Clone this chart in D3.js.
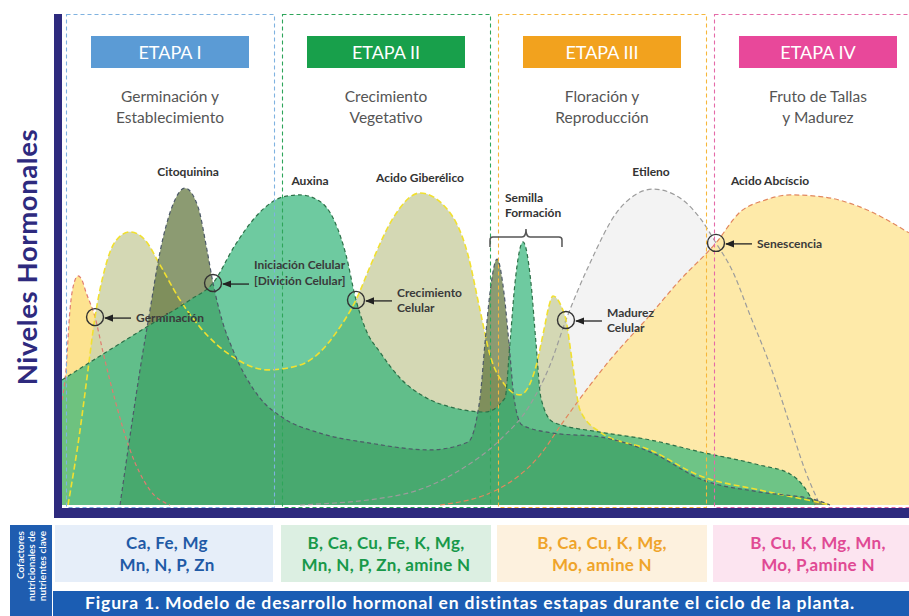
<!DOCTYPE html>
<html><head><meta charset="utf-8">
<script src="https://cdn.jsdelivr.net/npm/d3@7"></script>
<style>
body{margin:0;background:#fff;}
svg{display:block;font-family:Lato,"Open Sans",sans-serif;}
</style>
</head><body>
<svg id="chart" width="909" height="616"></svg>
<script>
// ---------- DATA ----------
const stages = ["ETAPA I", "ETAPA II", "ETAPA III", "ETAPA IV"];
const stageSubtitles = [["Germinación y", "Establecimiento"], ["Crecimiento", "Vegetativo"], ["Floración y", "Reproducción"], ["Fruto de Tallas", "y Madurez"]];
const nutrients = [["Ca, Fe, Mg", "Mn, N, P, Zn"], ["B, Ca, Cu, Fe, K, Mg,", "Mn, N, P, Zn, amine N"], ["B, Ca, Cu, K, Mg,", "Mo, amine N"], ["B, Cu, K, Mg, Mn,", "Mo, P,amine N"]];
const yAxisTitle = "Niveles Hormonales";
const nutrientTitle = ["Cofactores", "nutricionales de", "nutrientes clave"];
const caption = "Figura 1. Modelo de desarrollo hormonal en distintas estapas durante el ciclo de la planta.";

// hormone levels along the plant cycle (x: % of cycle, y: relative level)
const germinacion = [[0,32.4],[0.47,41.7],[0.94,60.2],[1.42,68.5],[1.89,70.7],[2.36,69.4],[2.83,65.7],[3.9,58.0],[4.84,47.2],[6.26,32.4],[8.03,17.0],[10.39,4.6],[12.75,0]];
const giberelico = [[0.71,0],[2.13,23.1],[3.07,41.7],[3.9,58.0],[5.08,73.1],[6.26,81.2],[8.03,84.3],[9.8,81.8],[11.57,74.1],[13.93,63.3],[16.29,54.9],[20.19,45.7],[24.32,41.7],[28.1,43.2],[30.46,47.2],[32.58,54.0],[34.71,63.3],[36.6,75.0],[38.96,88.0],[42.27,96.3],[45.57,91.0],[47.93,77.2],[49.35,60.2],[50.53,46.3],[52.3,37.0],[54.07,34.0],[55.84,41.7],[56.9,54.0],[57.5,61.5],[57.97,64.5],[58.5,63.5],[59.0,61.0],[59.5,57.1],[60.21,44.8],[61.16,29.3],[63.52,22.5],[69.42,17.0],[75.32,9.0],[82.41,4.6],[89.14,0.9],[90.67,0]];
const citoquinina = [[6.85,0],[7.79,17.0],[9.21,41.7],[10.39,60.2],[11.57,78.1],[12.99,92.0],[14.52,97.8],[16.06,92.0],[17.12,78.7],[17.83,68.5],[18.89,57.1],[20.19,47.8],[23.38,33.0],[26.09,26.9],[30.46,22.2],[36.36,19.1],[43.45,17.0],[47.93,19.4],[49.35,33.0],[49.94,50.0],[50.53,65.5],[51.36,75.9],[52.18,65.5],[52.77,50.0],[53.37,33.0],[54.31,24.7],[57.97,22.2],[63.52,21.0],[69.42,16.4],[75.68,7.7],[82.41,4.0],[89.14,1.5],[90.67,0]];
const auxina = [[0,38.6],[4.49,46.0],[10.39,55.6],[15.11,63.3],[17.83,68.5],[20.43,80.2],[23.38,90.4],[26.09,95.1],[28.1,95.7],[30.22,94.1],[32.23,87.3],[33.53,77.2],[34.71,63.3],[35.89,54.0],[37.54,47.2],[39.9,39.2],[42.86,33.3],[46.4,29.9],[49.94,28.7],[52.3,33.0],[52.89,50.0],[53.48,68.5],[54.43,81.2],[55.37,68.5],[55.96,50.0],[56.55,33.0],[57.97,25.6],[63.52,22.5],[69.42,20.1],[75.32,16.4],[82.41,12.3],[85.95,9.6],[87.72,5.2],[88.9,0]];
const etileno = [[28.1,0],[39.9,3.1],[46.99,10.8],[51.71,20.1],[55.25,30.9],[57.62,43.2],[59.5,57.1],[62.34,74.7],[65.52,90.4],[67.65,95.7],[69.77,97.5],[72.37,95.7],[75.32,88.6],[77.21,80.9],[79.22,71.9],[81.23,58.6],[83.59,43.2],[85.95,24.7],[87.72,10.8],[89.49,0]];
const abscisico = [[44.63,0],[51.71,5.2],[56.43,15.4],[59.15,25.6],[62.34,37.0],[64.7,44.8],[69.42,58.6],[72.96,69.4],[77.21,80.9],[80.05,90.4],[83.0,94.1],[85.95,95.7],[89.85,95.1],[94.21,92.0],[100,84.0]];

// hormone name labels (x, y in data units)
const hormoneNames = ["Citoquinina", "Auxina", "Acido Giberélico", "Etileno", "Acido Abcíscio"];
const hormoneNameX = [14.89, 29.28, 42.27, 69.54, 83.59];
const hormoneNameY = [101.5, 98.7, 99.7, 101.5, 98.7];

// event markers (crossing points)
const events = [["Germinación"], ["Iniciación Celular", "[Divición Celular]"], ["Crecimiento", "Celular"], ["Madurez", "Celular"], ["Senescencia"]];
const eventX = [3.9, 17.83, 34.71, 59.5, 77.21];
const eventY = [58.0, 68.5, 63.3, 57.1, 80.9];

// ---------- DRAW ----------
const svg = d3.select("#chart");
const W = 909, H = 616;
const x = d3.scaleLinear().domain([0, 100]).range([62, 909]);
const y = d3.scaleLinear().domain([0, 100]).range([505, 181]);

const defs = svg.append("defs");
defs.append("clipPath").attr("id", "plotclip").append("rect")
  .attr("x", 62).attr("y", 10).attr("width", 850).attr("height", 497);
defs.append("marker").attr("id", "arrow").attr("viewBox", "0 0 10 10")
  .attr("refX", 9).attr("refY", 5).attr("markerWidth", 7).attr("markerHeight", 7)
  .attr("orient", "auto-start-reverse")
  .append("path").attr("d", "M0,1 L10,5 L0,9 Z").attr("fill", "#222");

const hormones = [
  {data: etileno,     fill: "#f1f1f1", op: 0.85, stroke: "#9c9c9c", dash: "5,3", sw: 1.2},
  {data: abscisico,   fill: "#fee8a0", op: 0.9,  stroke: "#e2875e", dash: "5,3", sw: 1.2},
  {data: germinacion, fill: "#fde28a", op: 0.95, stroke: "#e07b70", dash: "4,3", sw: 1.2},
  {data: giberelico,  fill: "#cfd4ac", op: 0.9,  stroke: "#f1e030", dash: "6,3", sw: 1.6},
  {data: citoquinina, fill: "#5b7036", op: 0.7,  stroke: "#4d5a68", dash: "4,3", sw: 1.2},
  {data: auxina,      fill: "#30b478", op: 0.7,  stroke: "#2d7048", dash: "4,3", sw: 1.2}
];

const area = d3.area().x(d => x(d[0])).y0(y(0)).y1(d => y(d[1])).curve(d3.curveMonotoneX);
const line = d3.line().x(d => x(d[0])).y(d => y(d[1])).curve(d3.curveMonotoneX);

const plot = svg.append("g").attr("clip-path", "url(#plotclip)");
hormones.forEach(h => {
  plot.append("path").attr("d", area(h.data)).attr("fill", h.fill).attr("fill-opacity", h.op);
});
hormones.forEach(h => {
  plot.append("path").attr("d", line(h.data)).attr("fill", "none")
    .attr("stroke", h.stroke).attr("stroke-width", h.sw).attr("stroke-dasharray", h.dash);
});

// stage bands
const band = d3.scaleBand().domain(stages).range([66, 922]).paddingInner(0.037);
const stageHead = ["#5b9bd5", "#18a04b", "#f2a21e", "#e8489a"];
const stageDash = ["#7fb2e0", "#2ea55a", "#f6b73c", "#e46aa8"];
const boxFill = ["#e6eef9", "#dcefe2", "#fdf1de", "#fce4f0"];
const boxText = ["#1f5aa6", "#18994a", "#efa42a", "#e04a94"];

stages.forEach((s, i) => {
  const bx = band(s), bw = band.bandwidth();
  svg.append("rect").attr("x", bx + 0.5).attr("y", 14.5).attr("width", bw).attr("height", 493)
    .attr("fill", "none").attr("stroke", stageDash[i]).attr("stroke-width", 1.1)
    .attr("stroke-dasharray", "4,3");
  svg.append("rect").attr("x", bx + 25).attr("y", 36).attr("width", 158).attr("height", 32)
    .attr("fill", stageHead[i]);
  svg.append("text").attr("x", bx + 104).attr("y", 59).attr("text-anchor", "middle")
    .attr("fill", "#fff").attr("font-size", 18).text(s);
  stageSubtitles[i].forEach((t, j) => {
    svg.append("text").attr("x", bx + 104).attr("y", 102 + j * 21).attr("text-anchor", "middle")
      .attr("fill", "#555").attr("font-size", 15.5).text(t);
  });
  // nutrient boxes
  const nx = i === 0 ? 55 : bx - 1;
  const nw = i === 0 ? bx + bw - 55 - 1 : bw + 2;
  svg.append("rect").attr("x", nx).attr("y", 525).attr("width", nw).attr("height", 57).attr("fill", boxFill[i]);
  nutrients[i].forEach((t, j) => {
    svg.append("text").attr("x", i === 0 ? bx + 101 : bx + 104).attr("y", 549 + j * 22).attr("text-anchor", "middle")
      .attr("fill", boxText[i]).attr("font-size", 17).attr("font-weight", 700)
      .attr("letter-spacing", 0.3).text(t);
  });
});

// navy axes
svg.append("rect").attr("x", 54).attr("y", 14).attr("width", 8).attr("height", 504).attr("fill", "#2e2a7e");
svg.append("rect").attr("x", 54).attr("y", 508).attr("width", W - 54).attr("height", 10).attr("fill", "#2e2a7e");

// y-axis title
svg.append("text").attr("transform", "translate(37,257) rotate(-90)").attr("text-anchor", "middle")
  .attr("fill", "#2e2a7e").attr("font-size", 27.5).attr("font-weight", 700)
  .attr("letter-spacing", 0.6).text(yAxisTitle);

// hormone names
hormoneNames.forEach((n, i) => {
  svg.append("text").attr("x", x(hormoneNameX[i])).attr("y", y(hormoneNameY[i]))
    .attr("text-anchor", "middle").attr("fill", "#333").attr("font-size", 12).attr("font-weight", 700).text(n);
});
// Semilla Formación
["Semilla", "Formación"].forEach((t, j) => {
  svg.append("text").attr("x", x(52.3)).attr("y", 202 + j * 15).attr("fill", "#333")
    .attr("font-size", 12).attr("font-weight", 700).text(t);
});
const bl = x(50.53), br = x(59.03), bc = (bl + br) / 2;
svg.append("path")
  .attr("d", `M${bl},247 V240 Q${bl},237 ${bl+3},237 H${bc-4} Q${bc},237 ${bc},229 Q${bc},237 ${bc+4},237 H${br-3} Q${br},237 ${br},240 V247`)
  .attr("fill", "none").attr("stroke", "#555").attr("stroke-width", 1.5);

// event markers
events.forEach((lab, i) => {
  const cx = x(eventX[i]), cy = y(eventY[i]);
  svg.append("circle").attr("cx", cx).attr("cy", cy).attr("r", 8.5)
    .attr("fill", "none").attr("stroke", "#333").attr("stroke-width", 1.4);
  svg.append("line").attr("x1", cx + 36).attr("y1", cy + 1).attr("x2", cx + 10).attr("y2", cy + 1)
    .attr("stroke", "#222").attr("stroke-width", 1.3).attr("marker-end", "url(#arrow)");
  const n = lab.length;
  lab.forEach((t, j) => {
    let ty;
    if (n === 1) ty = cy + 5;
    else if (i === 1) ty = cy - 14 + j * 16;
    else ty = cy - 3 + j * 15;
    svg.append("text").attr("x", cx + 41).attr("y", ty).attr("fill", "#3a3a3a")
      .attr("font-size", 12).attr("font-weight", 700).text(t);
  });
});

// nutrient title box
svg.append("rect").attr("x", 10).attr("y", 525).attr("width", 42).attr("height", 91).attr("fill", "#1f5db0");
nutrientTitle.forEach((t, j) => {
  svg.append("text").attr("transform", `translate(${24 + j * 11},531) rotate(-90)`)
    .attr("text-anchor", "end").attr("fill", "#fff").attr("font-size", 10).attr("font-weight", 600).text(t);
});

// caption
svg.append("rect").attr("x", 53).attr("y", 591).attr("width", W - 53).attr("height", 25).attr("fill", "#1b5db3");
svg.append("text").attr("x", 470).attr("y", 609).attr("text-anchor", "middle").attr("fill", "#fff")
  .attr("font-size", 17.5).attr("font-weight", 700).attr("letter-spacing", 0.85).text(caption);
</script>
</body></html>
